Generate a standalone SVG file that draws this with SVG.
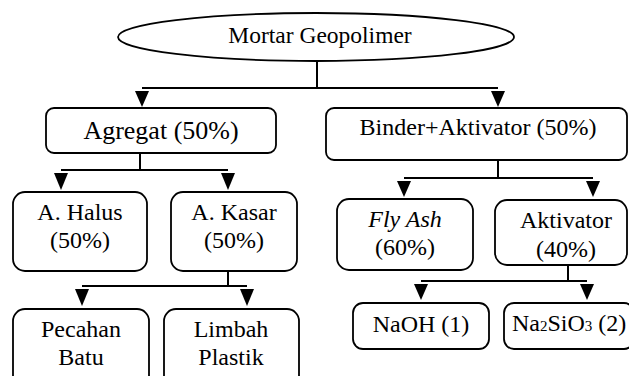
<svg xmlns="http://www.w3.org/2000/svg" width="629" height="376" viewBox="0 0 629 376">
<style>
.box{fill:#fff;stroke:#000;stroke-width:1.8}
.t{font-size:24px;fill:#000;text-anchor:middle}
.ln{fill:none;stroke:#000;stroke-width:2}
.s{font-size:26px}
.m{font-size:23.5px}
.sub{font-size:15px}
</style>
<rect width="629" height="376" fill="#fff"/>
<g id="connectors">
<path class="ln" d="M317,61 V88 M142,88 H498"/>
<path class="ln" d="M140,153 V170 M61,170 H228"/>
<path class="ln" d="M228,271 V286 M82,286 H247"/>
<path class="ln" d="M498,160 V178 M404,178 H593"/>
<path class="ln" d="M568,265 V281 M421,281 H587"/>
<g fill="#000">
<path d="M135,91 H149 L142,107 Z"/>
<path d="M491,91 H505 L498,107 Z"/>
<path d="M54,173 H68 L61,190 Z"/>
<path d="M221,173 H235 L228,190 Z"/>
<path d="M75,289 H89 L82,306 Z"/>
<path d="M240,289 H254 L247,306 Z"/>
<path d="M397,181 H411 L404,197 Z"/>
<path d="M586,181 H600 L593,197 Z"/>
<path d="M414,284 H428 L421,300 Z"/>
<path d="M580,284 H594 L587,300 Z"/>
</g>
</g>
<g font-family="Liberation Serif, Times New Roman, serif">
<g id="mortar">
<ellipse cx="316" cy="37" rx="198" ry="24" fill="#fff" stroke="#000" stroke-width="1.8"/>
<text class="t m" x="320" y="43" font-family="Liberation Serif, serif">Mortar Geopolimer</text>
</g>
<g id="agregat">
<rect class="box" x="46" y="108" width="230" height="45" rx="8"/>
<text class="t s" x="161" y="139" font-family="Liberation Serif, serif">Agregat (50%)</text>
</g>
<g id="binder">
<rect class="box" x="326" y="108" width="301" height="52" rx="8"/>
<text class="t" x="478" y="135" font-family="Liberation Serif, serif">Binder+Aktivator (50%)</text>
</g>
<g id="halus">
<rect class="box" x="13" y="192" width="134" height="79" rx="12"/>
<text class="t" x="80" y="220" font-family="Liberation Serif, serif">A. Halus</text>
<text class="t" x="80" y="248" font-family="Liberation Serif, serif">(50%)</text>
</g>
<g id="kasar">
<rect class="box" x="171" y="192" width="126" height="79" rx="12"/>
<text class="t" x="234" y="220" font-family="Liberation Serif, serif">A. Kasar</text>
<text class="t" x="234" y="248" font-family="Liberation Serif, serif">(50%)</text>
</g>
<g id="pecahan">
<rect class="box" x="13" y="309" width="136" height="80" rx="12"/>
<text class="t" x="81" y="337" font-family="Liberation Serif, serif">Pecahan</text>
<text class="t" x="81" y="365" font-family="Liberation Serif, serif">Batu</text>
</g>
<g id="limbah">
<rect class="box" x="164" y="309" width="135" height="80" rx="12"/>
<text class="t" x="231" y="337" font-family="Liberation Serif, serif">Limbah</text>
<text class="t" x="231" y="365" font-family="Liberation Serif, serif">Plastik</text>
</g>
<g id="flyash">
<rect class="box" x="337" y="199" width="136" height="71" rx="12"/>
<text class="t" x="405" y="227" font-style="italic" font-family="Liberation Serif, serif">Fly Ash</text>
<text class="t" x="405" y="255" font-family="Liberation Serif, serif">(60%)</text>
</g>
<g id="aktivator">
<rect class="box" x="495" y="200" width="132" height="65" rx="12"/>
<text class="t" x="566" y="228" font-family="Liberation Serif, serif">Aktivator</text>
<text class="t" x="566" y="257" font-family="Liberation Serif, serif">(40%)</text>
</g>
<g id="naoh">
<rect class="box" x="353" y="303" width="136" height="46" rx="10"/>
<text class="t" x="421" y="332" font-family="Liberation Serif, serif">NaOH (1)</text>
</g>
<g id="na2sio3">
<rect class="box" x="504" y="303" width="130" height="46" rx="10"/>
<text class="t" x="512" y="331" style="text-anchor:start" font-family="Liberation Serif, serif">Na<tspan class="sub">2</tspan>SiO<tspan class="sub">3</tspan> (2)</text>
</g>
</g>
</svg>
